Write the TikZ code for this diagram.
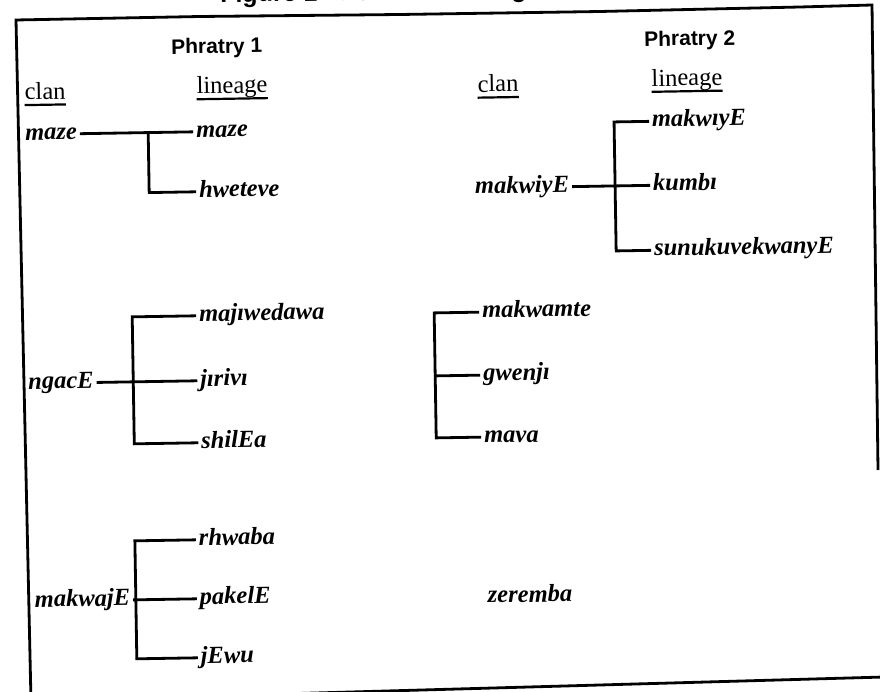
\documentclass[tikz,border=0pt]{standalone}
\usepackage{fontspec}
\setmainfont{Liberation Serif}
\newfontfamily\headsans{Liberation Sans}
\begin{document}
\begin{tikzpicture}[x=1pt,y=-1pt,
  frame/.style={line width=2.8pt, line join=miter},
  brk/.style={line width=2.8pt, line join=miter, line cap=butt},
  % the box of a name spans baseline to x-height, so west/east sit at mid x-height
  nm/.style={font=\fontsize{24.5}{28}\selectfont\bfseries\itshape, anchor=west,
             text height=11.2pt, text depth=0pt,
             inner xsep=3pt, inner ysep=0pt, outer sep=0pt},
  hdr/.style={font=\fontsize{24.5}{28}\selectfont, anchor=base west, inner sep=0pt},
  uline/.style={line width=2.2pt},
  ttl/.style={font=\headsans\bfseries\fontsize{21}{25}\selectfont, anchor=base, inner sep=0pt},
  figttl/.style={font=\headsans\bfseries\fontsize{25}{30}\selectfont, anchor=base west, inner sep=0pt}]
\useasboundingbox (0,0) rectangle (880,692);
\clip (0,0) rectangle (880,692);

% outer frame
\draw[frame] (878,470) -- (872,5) -- (800,7) -- (600,11.5) -- (400,14.5) -- (200,16.5) -- (16,20) -- (31,701) -- (884,677);

\begin{scope}[rotate=0.94, transform shape]
  % caption
  \node[figttl] (fig) at (220,6) {Figure 1. Clan and Lineage};

  % column heads
  \node[ttl] (p1) at (216,57) {Phratry 1};
  \node[ttl] (p2) at (689,57) {Phratry 2};
  \node[hdr] (p1clan) at (23,100) {clan};
  \node[hdr] (p1lin) at (195,97) {lineage};
  \node[hdr] (p2clan) at (476,100) {clan};
  \node[hdr] (p2lin) at (650,97) {lineage};
  \foreach \h in {p1clan,p1lin,p2clan,p2lin}
    \draw[uline] ([yshift=-5.5pt]\h.base west) -- ([yshift=-5.5pt]\h.base east);

  % Phratry 1: maze
  \node[nm] (cA) at (20,135) {maze};
  \node[nm] (lA1) at (191,135) {maze};
  \node[nm] (lA2) at (193,195) {hweteve};
  \coordinate (bA1) at (146,135);
  \coordinate (bA2) at (146,195);
  \draw[brk] (cA.east) -- (lA1.west);
  \draw[brk] (bA1) -- (bA2) -- (lA2.west);

  % Phratry 1: ngacE
  \node[nm] (cB) at (19,384) {ngacE};
  \node[nm] (lB1) at (191,319) {majıwedawa};
  \node[nm] (lB2) at (191,384) {jırivı};
  \node[nm] (lB3) at (191,446) {shilEa};
  \coordinate (bB1) at (127,319);
  \coordinate (bB3) at (127,446);
  \draw[brk] (lB1.west) -- (bB1) -- (bB3) -- (lB3.west);
  \draw[brk] (cB.east) -- (lB2.west);

  % Phratry 1: makwajE
  \node[nm] (cC) at (22,602) {makwajE};
  \node[nm] (lC1) at (187,543) {rhwaba};
  \node[nm] (lC2) at (187,602) {pakelE};
  \node[nm] (lC3) at (187,661) {jEwu};
  \coordinate (bC1) at (126,543);
  \coordinate (bC3) at (126,661);
  \draw[brk] (lC1.west) -- (bC1) -- (bC3) -- (lC3.west);
  \draw[brk] (cC.east) -- (lC2.west);

  % Phratry 2: makwiyE
  \node[nm] (cD) at (469,196) {makwiyE};
  \node[nm] (lD1) at (647,132) {makwıyE};
  \node[nm] (lD2) at (647,196) {kumbı};
  \node[nm] (lD3) at (647,261) {sunukuvekwanyE};
  \coordinate (bD1) at (612,132);
  \coordinate (bD3) at (612,261);
  \draw[brk] (lD1.west) -- (bD1) -- (bD3) -- (lD3.west);
  \draw[brk] (cD.east) -- (lD2.west);

  % Phratry 2: lineages without a clan name
  \node[nm] (lE1) at (474,320) {makwamte};
  \node[nm] (lE2) at (474,383) {gwenjı};
  \node[nm] (lE3) at (474,445) {mava};
  \coordinate (bE1) at (429,320);
  \coordinate (bE2) at (429,383);
  \coordinate (bE3) at (429,445);
  \draw[brk] (lE1.west) -- (bE1) -- (bE3) -- (lE3.west);
  \draw[brk] (bE2) -- (lE2.west);

  % Phratry 2: zeremba
  \node[nm] (cF) at (475,605) {zeremba};
\end{scope}
\end{tikzpicture}
\end{document}
